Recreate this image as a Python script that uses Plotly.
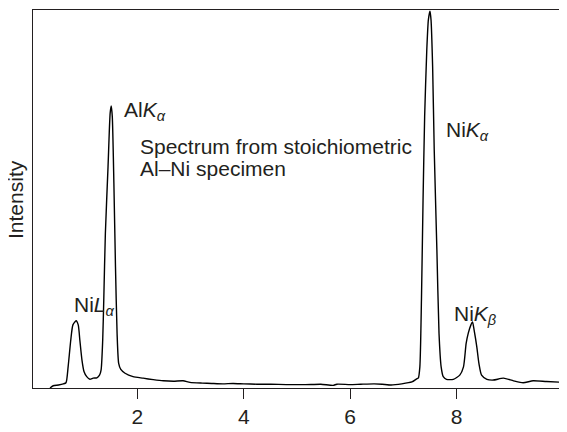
import plotly.graph_objects as go

# Energy (keV) and intensity (arbitrary units, 0-100)
energy = [0.36, 0.42, 0.52, 0.61, 0.66, 0.70, 0.75, 0.79, 0.85, 0.89, 0.92, 0.96,
          1.00, 1.05, 1.11, 1.17, 1.24, 1.29, 1.32, 1.35, 1.37, 1.40, 1.45, 1.49,
          1.51, 1.53, 1.56, 1.59, 1.62, 1.65, 1.69, 1.77, 1.92, 2.11, 2.30, 2.49,
          2.68, 2.86, 2.99, 3.22, 3.40, 3.61, 3.80, 4.00, 4.25, 4.51, 4.80, 5.16,
          5.45, 5.68, 5.75, 6.00, 6.20, 6.45, 6.60, 6.77, 6.97, 7.16, 7.26, 7.28,
          7.31, 7.34, 7.37, 7.40, 7.44, 7.47, 7.50, 7.52, 7.55, 7.58, 7.63, 7.67,
          7.71, 7.75, 7.81, 7.94, 8.06, 8.13, 8.18, 8.22, 8.27, 8.30, 8.33, 8.38,
          8.42, 8.47, 8.57, 8.69, 8.88, 9.07, 9.25, 9.44, 9.69, 10.0]
intensity = [0.0, 0.6, 0.8, 1.1, 1.4, 5.6, 12.7, 16.7, 17.8, 16.7, 12.7, 7.4,
             4.3, 3.0, 2.3, 2.6, 2.7, 3.4, 4.8, 12.7, 23.3, 40.9, 58.5, 72.7,
             74.6, 71.8, 54.2, 32.1, 14.5, 6.5, 4.9, 3.9, 3.0, 2.6, 2.2, 1.9,
             1.8, 1.9, 1.5, 1.3, 1.2, 1.1, 1.2, 1.1, 1.0, 1.0, 0.9, 0.9,
             1.0, 0.7, 1.0, 0.9, 1.0, 1.1, 1.0, 0.8, 1.1, 1.6, 2.5, 2.6,
             5.6, 23.3, 49.7, 71.8, 89.4, 97.4, 99.7, 97.4, 85.0, 63.0, 36.5, 14.5,
             5.6, 3.0, 2.3, 2.3, 3.4, 5.6, 11.8, 14.5, 16.7, 17.5, 15.3, 10.9,
             6.5, 3.4, 2.3, 2.1, 2.6, 1.9, 1.4, 1.9, 1.7, 1.5]

tick_vals = [2, 4, 6, 8]
tick_text = ["2", "4", "6", "8"]

FONT = "Liberation Sans, Arial, sans-serif"
INK = "#231f20"

fig = go.Figure()
fig.add_trace(go.Scatter(x=energy, y=intensity, mode="lines",
                         line=dict(color="#000000", width=1.4, shape="spline", smoothing=0.6),
                         hoverinfo="skip", showlegend=False))

labels = [
    ("Al<i>K<sub>α</sub></i>", 1.72, 73.2),
    ("Ni<i>K<sub>α</sub></i>", 7.76, 68.0),
    ("Ni<i>K<sub>β</sub></i>", 7.91, 19.3),
    ("Ni<i>L<sub>α</sub></i>", 0.77, 21.6),
    ("Spectrum from stoichiometric", 2.02, 64.0),
    ("Al–Ni specimen", 2.02, 58.0),
]
for txt, xx, yy in labels:
    fig.add_annotation(x=xx, y=yy, xref="x", yref="y", text=txt, showarrow=False,
                       xanchor="left", yanchor="middle",
                       font=dict(family=FONT, size=21, color=INK))

fig.add_annotation(x=-0.034, y=0.5, xref="paper", yref="paper", text="Intensity",
                   textangle=-90, showarrow=False, xanchor="center", yanchor="middle",
                   borderpad=0,
                   font=dict(family=FONT, size=21, color=INK))

# page body has an 8px default margin, so the figure is sized/margined to compensate
fig.update_layout(
    width=559, height=424,
    margin=dict(l=25, r=4, t=2, b=44),
    paper_bgcolor="white", plot_bgcolor="white",
    font=dict(family=FONT, color=INK),
)
fig.update_xaxes(range=[0.04, 10.0], tickvals=tick_vals, ticktext=tick_text,
                 ticks="outside", ticklen=10, tickwidth=1.3, tickcolor=INK,
                 tickfont=dict(family=FONT, size=21, color=INK), automargin=False,
                 showgrid=False, zeroline=False, showline=True, linecolor=INK,
                 linewidth=1.3, mirror=True)
fig.update_yaxes(range=[0, 100], showticklabels=False, ticks="", automargin=False,
                 showgrid=False, zeroline=False, showline=True, linecolor=INK,
                 linewidth=1.3, mirror=True)

fig.write_html("out.html")
